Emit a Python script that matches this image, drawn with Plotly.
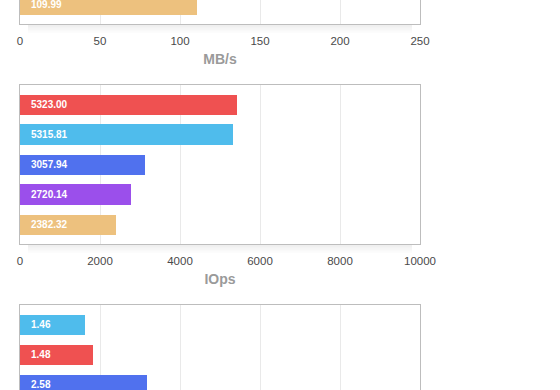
import plotly.graph_objects as go

RED = "#EF5151"
CYAN = "#4FBCEC"
BLUE = "#5071EE"
PURPLE = "#9B4FEB"
ORANGE = "#EDC17E"

# top chart (only its last bar is visible)
mbs_pos = [4]
mbs_values = [110.6]
mbs_labels = ["109.99"]
mbs_colors = [ORANGE]
mbs_ticks = [0, 50, 100, 150, 200, 250]

# middle chart
iops_pos = [0, 1, 2, 3, 4]
iops_values = [5425, 5325, 3125, 2775, 2400]
iops_labels = ["5323.00", "5315.81", "3057.94", "2720.14", "2382.32"]
iops_colors = [RED, CYAN, BLUE, PURPLE, ORANGE]
iops_ticks = [0, 2000, 4000, 6000, 8000, 10000]

# bottom chart (only first three bars visible)
lat_pos = [0, 1, 2]
lat_values = [1.30, 1.46, 2.54]
lat_labels = ["1.46", "1.48", "2.58"]
lat_colors = [CYAN, RED, BLUE]
lat_ticks = [0, 1.6, 3.2, 4.8, 6.4, 8.0]

W, H = 560, 390
FONT = "Liberation Sans, Arial, Helvetica, sans-serif"

fig = go.Figure()

def px2paper(y):
    return 1 - y / H

charts = [
    (mbs_pos, mbs_values, mbs_labels, mbs_colors, mbs_ticks, [0, 250], [4.65, 3.85],
     [px2paper(24), 1.0], "MB/s", True, False),
    (iops_pos, iops_values, iops_labels, iops_colors, iops_ticks, [0, 10000], [4.65, -0.65],
     [px2paper(244), px2paper(85)], "IOps", True, True),
    (lat_pos, lat_values, lat_labels, lat_colors, lat_ticks, [0, 8], [2.173, -0.65],
     [0.0, px2paper(305)], "", False, True),
]

annotations = []
shapes = []
for i, (pos, vals, labs, cols, ticks, xr, yr, ydom, title, showlab, topline) in enumerate(charts):
    n = "" if i == 0 else str(i + 1)
    xa, ya = "x" + n, "y" + n
    fig.add_trace(go.Bar(
        x=vals, y=pos, orientation="h", marker=dict(color=cols, line=dict(width=0)),
        width=0.667, xaxis=xa, yaxis=ya, hoverinfo="skip", showlegend=False,
    ))
    for p, lab in zip(pos, labs):
        annotations.append(dict(
            x=0, y=p, xref=xa, yref=ya, text=lab, showarrow=False,
            xanchor="left", yanchor="middle", xshift=9,
            font=dict(family=FONT, size=10, color="white", weight="bold"),
        ))
    xkey = "xaxis" + n
    ykey = "yaxis" + n
    fig.update_layout(**{
        xkey: dict(
            domain=[0, 1], range=xr, anchor=ya, tickvals=ticks,
            ticktext=[str(t) for t in ticks],
            showgrid=True, gridcolor="#E9E9E9", gridwidth=1,
            zeroline=False, showline=True, linecolor="#BDBDBD", linewidth=1,
            mirror=topline, ticks="", showticklabels=showlab,
            ticklabelstandoff=6,
            tickfont=dict(family=FONT, size=11.5, color="#4A4A4A"),
            title=dict(text=title, standoff=8,
                       font=dict(family=FONT, size=14, color="#9A9A9A", weight="bold")),
            automargin=False, fixedrange=True,
        ),
        ykey: dict(
            domain=ydom, range=yr, anchor=xa, showticklabels=False, showgrid=False,
            zeroline=False, showline=True, linecolor="#BDBDBD", linewidth=1,
            mirror=True, ticks="", automargin=False, fixedrange=True,
        ),
    })
    if i < 2:
        yb = (1 - ydom[0]) * H
        for k in range(1, 7):
            shapes.append(dict(
                type="rect", xref="paper", yref="paper", x0=0.02, x1=0.98,
                y0=px2paper(yb + 1.5 * k), y1=px2paper(yb + 0.5),
                fillcolor="rgba(0,0,0,0.010)", line=dict(width=0), layer="below",
            ))

fig.update_layout(
    width=W, height=H,
    margin=dict(l=20, r=140, t=0, b=0),
    paper_bgcolor="white", plot_bgcolor="white",
    bargap=0, annotations=annotations, shapes=shapes,
    font=dict(family=FONT),
)

fig.write_html("out.html", config={"displayModeBar": False},
               post_script="document.body.style.margin='0';document.body.style.overflow='hidden';")
